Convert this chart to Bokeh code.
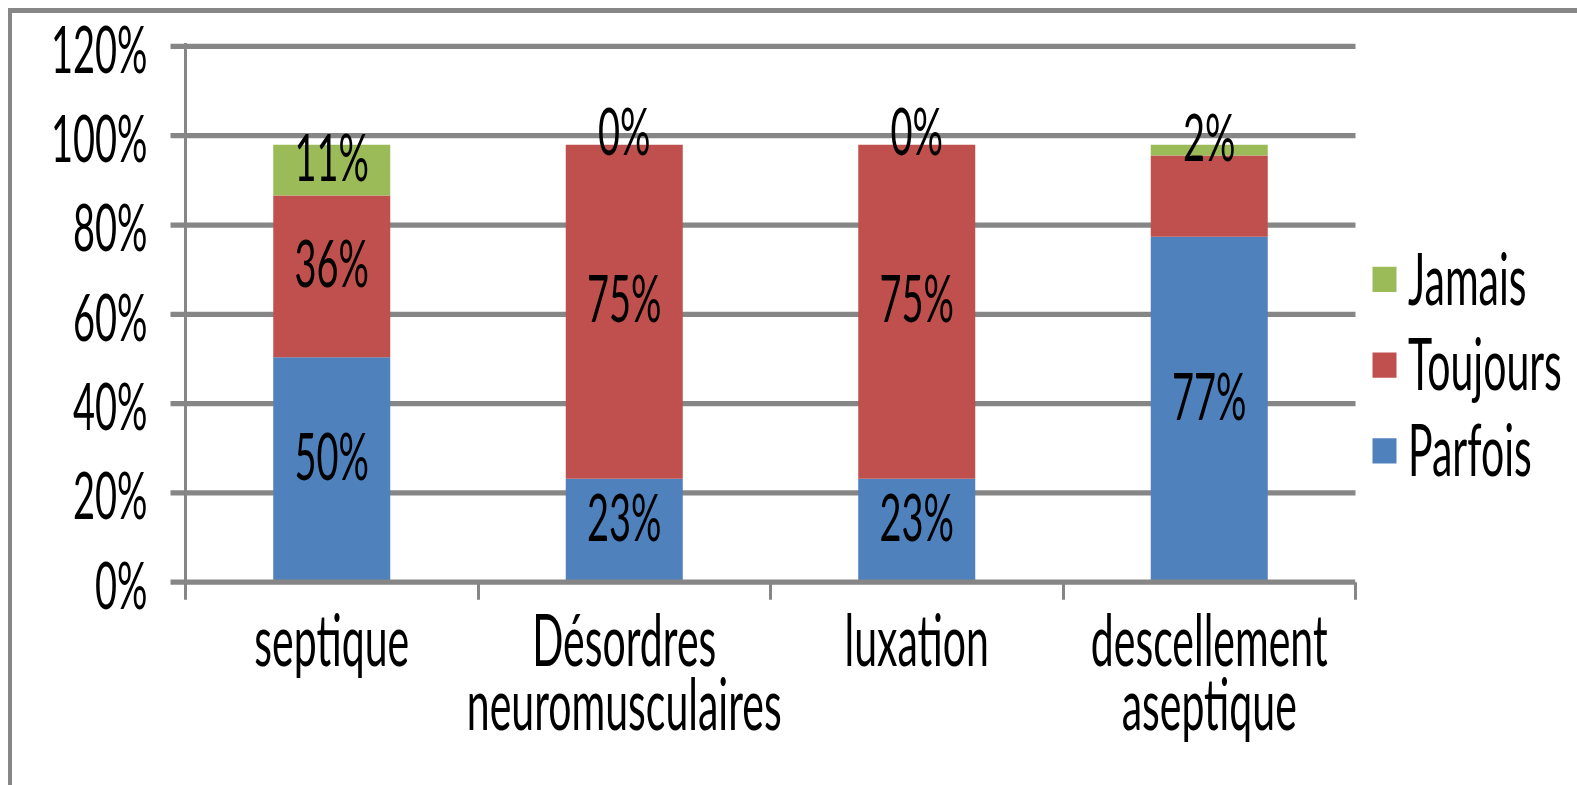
import math
from bokeh.plotting import figure
from bokeh.models import (Range1d, FixedTicker, Legend, LegendItem, ColumnDataSource,
                          GlobalInlineStyleSheet, BoxAnnotation)
from bokeh.core.properties import value
from bokeh.embed import file_html
from bokeh.resources import INLINE

# ---- data ----
categories = ["septique", "Désordres\nneuromusculaires", "luxation", "descellement\naseptique"]
series = ["Parfois", "Toujours", "Jamais"]
parfois = [50.4, 23.2, 23.2, 77.4]
toujours = [36.2, 74.8, 74.8, 18.2]
jamais = [11.4, 0.0, 0.0, 2.4]
label_visible = {
    "Parfois": [True, True, True, True],
    "Toujours": [True, True, True, False],
    "Jamais": [True, True, True, True],
}
y_ticks = [0, 20, 40, 60, 80, 100, 120]
y_tick_labels = ["0%", "20%", "40%", "60%", "80%", "100%", "120%"]
colors = {"Parfois": "#4F81BD", "Toujours": "#C0504D", "Jamais": "#9BBB59"}

# ---- layout ----
W, H = 1577, 256
S = math.sqrt(785 / H)   # vertical stretch of the whole picture (text is tall and narrow)
FONT = "Lato"
FS = "38px"
GRID = "#868686"
LEFT = 185
CAT_W = 292.5
N = len(categories)

xpos = [i + 0.5 for i in range(N)]
data = {"x": xpos, "Parfois": parfois, "Toujours": toujours, "Jamais": jamais}
src = ColumnDataSource(data)

# the frame runs to the right edge; the area right of the last category holds the legend
p = figure(width=W, height=H, output_backend="svg", toolbar_location=None,
           x_range=Range1d(0, (W - LEFT) / CAT_W), y_range=Range1d(0, 120.8),
           min_border_left=LEFT, min_border_right=0, min_border_top=24, min_border_bottom=116)

rs = p.vbar_stack(series, x="x", width=0.4, color=[colors[s] for s in series],
                  source=src, line_width=0)

# data labels
lx, ly, lt = [], [], []
bottoms = [0.0] * N
for s in series:
    vals = data[s]
    for j, v in enumerate(vals):
        if label_visible[s][j]:
            lx.append(xpos[j])
            ly.append(bottoms[j] + v / 2)
            lt.append(f"{round(v)}%")
        bottoms[j] += v
p.text(x=lx, y=ly, text=lt, text_font=value(FONT), text_font_size=FS,
       text_align="center", text_baseline="middle", y_offset=-9, text_color="black")

# y axis
ya = p.yaxis[0]
ya.ticker = FixedTicker(ticks=y_ticks, minor_ticks=[])
ya.major_label_overrides = dict(zip(y_ticks, y_tick_labels))
ya.axis_line_color = GRID
ya.axis_line_width = 3
ya.major_tick_line_color = GRID
ya.major_tick_line_width = 3
ya.major_tick_out = 15
ya.major_tick_in = 0
ya.minor_tick_line_color = None
ya.major_label_standoff = 23
ya.major_label_text_font = FONT
ya.major_label_text_font_size = FS
ya.major_label_text_color = "black"

# x axis: labels at category centres, ticks at boundaries
xa = p.xaxis[0]
xa.bounds = (0, N)
xa.ticker = FixedTicker(ticks=xpos, minor_ticks=list(range(N + 1)))
xa.major_label_overrides = dict(zip(xpos, categories))
xa.axis_line_color = GRID
xa.axis_line_width = 3
xa.major_tick_line_color = None
xa.major_tick_out = 0
xa.major_tick_in = 0
xa.minor_tick_line_color = GRID
xa.minor_tick_line_width = 3
xa.minor_tick_out = 10
xa.minor_tick_in = 0
xa.major_label_standoff = -2
xa.major_label_text_font = FONT
xa.major_label_text_font_size = "41px"
xa.major_label_text_color = "black"
xa.major_label_text_line_height = 0.74

p.xgrid.visible = False
p.ygrid.ticker = FixedTicker(ticks=y_ticks, minor_ticks=[])
p.ygrid.grid_line_color = GRID
p.ygrid.grid_line_width = 3

p.outline_line_color = None
p.background_fill_color = "white"
p.border_fill_alpha = 0

# blank out gridlines beyond the last category (legend area)
p.add_layout(BoxAnnotation(left=N, fill_color="white", fill_alpha=1, line_color=None))

legend = Legend(items=[LegendItem(label=s, renderers=[rs[i]]) for i, s in reversed(list(enumerate(series)))],
                location=(1184, 51), orientation="vertical", padding=0, margin=0, spacing=0,
                border_line_color=None, background_fill_alpha=0,
                glyph_width=30, glyph_height=18, label_height=49, label_standoff=9,
                label_text_font=FONT, label_text_font_size="41px", label_text_color="black")
p.add_layout(legend)

p.styles = {"transform": f"scaleY({S})", "transform-origin": "0 0"}
p.stylesheets = [GlobalInlineStyleSheet(css=(
    "html, body { margin: 0; overflow: hidden; }"
    "body { background: linear-gradient(#878787,#878787) 8px 8px / 1577px 5px no-repeat,"
    " linear-gradient(#878787,#878787) 8px 8px / 4px 785px no-repeat, white; }"
))]

open("out.html", "w").write(file_html(p, INLINE))
